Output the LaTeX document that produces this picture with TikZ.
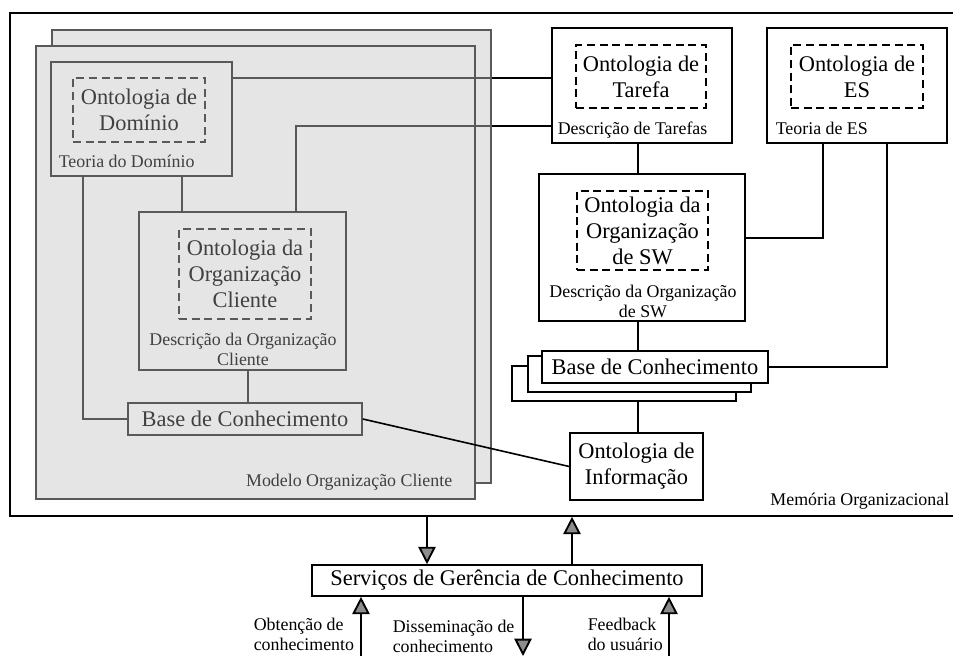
\documentclass[tikz,border=0pt]{standalone}
\usepackage{fontspec}
\setmainfont{Liberation Serif}
\usetikzlibrary{fit,arrows.meta}
\begin{document}
\begin{tikzpicture}[x=0.75pt,y=-0.75pt,line width=1.2pt,
  frame/.style={draw, inner sep=0pt, line width=1.2pt},
  onto/.style={draw, dash pattern=on 6pt off 3.5pt, line width=1.2pt, inner sep=0pt,
    align=center, font=\fontsize{16.8}{19.5}\selectfont},
  big/.style={font=\fontsize{16.8}{19.5}\selectfont, align=center},
  small/.style={font=\fontsize{13.4}{15}\selectfont, inner sep=0pt},
  client/.style={draw=black!65, text=black!75},
  cltext/.style={text=black!75},
  clline/.style={draw=black!65},
  flow/.style={-{Triangle[length=13pt,width=13pt,fill=black!45]}, line width=1.4pt},
]
\useasboundingbox (0,0) rectangle (953,656);
\clip (0,0) rectangle (953,656);

% helper columns and rows for orthogonal connectors
\coordinate (x83) at (83,0);
\coordinate (x182) at (182,0);
\coordinate (x248) at (248,0);
\coordinate (x296) at (296,0);
\coordinate (x638) at (638,0);
\coordinate (x823) at (823,0);
\coordinate (x887) at (887,0);
\coordinate (x427) at (427,0);
\coordinate (x572) at (572,0);
\coordinate (y78) at (0,78);
\coordinate (y126) at (0,126);
\coordinate (y238) at (0,238);

% organisational memory frame (open to the right)
\node[frame, fit={(10,13) (1000,516)}] (mem) {};
\node[small, anchor=base east] at (950,505) {Memória Organizacional};

% client organisation model: two stacked sheets
\node[frame, client, fill=black!10, fit={(52,30) (491,483)}] (page2) {};
\node[frame, client, fill=black!10, fit={(36,46) (475,499)}] (page1) {};
\node[small, cltext, anchor=base east] at (453,486) {Modelo Organização Cliente};

\node[frame, client, fit={(51,62) (232,176)}] (dom) {};
\node[onto, client, minimum width=99pt, minimum height=48pt] (domo) at (139,110) {Ontologia de\\Domínio};
\node[small, cltext, anchor=base west] at (58,168) {Teoria do Domínio};

\node[frame, client, fit={(139,212) (346,370)}] (corg) {};
\node[onto, client, minimum width=99pt, minimum height=67.5pt] (corgo) at (245,274) {Ontologia da\\Organização\\Cliente};
\node[small, cltext, align=center] at (243,349) {Descrição da Organização\\Cliente};

\node[frame, client, big, inner sep=0pt, minimum width=175.5pt, minimum height=24pt] (bc) at (245,419) {Base de Conhecimento};

% software side
\node[frame, fit={(552,28) (732,143)}] (tar) {};
\node[onto, minimum width=97.5pt, minimum height=47.25pt] (taro) at (641,76.5) {Ontologia de\\Tarefa};
\node[small, anchor=base west] at (557,135) {Descrição de Tarefas};

\node[frame, fit={(767,28) (947,143)}] (es) {};
\node[onto, minimum width=99pt, minimum height=47.25pt] (eso) at (857,76.5) {Ontologia de\\ES};
\node[small, anchor=base west] at (775,135) {Teoria de ES};

\node[frame, fit={(539,174) (745,321)}] (sw) {};
\node[onto, minimum width=98.25pt, minimum height=59.25pt] (swo) at (642.5,230.5) {Ontologia da\\Organização\\de SW};
\node[small, align=center] at (643,301) {Descrição da Organização\\de SW};

\node[frame, fill=white, fit={(512,366) (736,401)}] (bsw3) {};
\node[frame, fill=white, fit={(528,356) (751,392)}] (bsw2) {};
\node[frame, fill=white, big, inner sep=0pt, minimum width=169.5pt, minimum height=24pt] (bsw) at (655,367) {Base de Conhecimento};

\node[frame, big, inner sep=0pt, minimum width=99.75pt, minimum height=50.25pt] (info) at (636.5,466.5) {Ontologia de\\Informação};

% services
\node[frame, big, inner sep=0pt, minimum width=292.5pt, minimum height=23.25pt] (svc) at (507,580.5) {Serviços de Gerência de Conhecimento};

% connectors inside the client model
\draw[clline] (dom.south -| x83) |- (bc.west);
\draw[clline] (dom.south -| x182) -- (corg.north -| x182);
\draw[clline] (corg.south -| x248) -- (bc.north -| x248);
\draw[clline] (dom.east |- y78) -- (page2.east |- y78);
\draw[clline] (corg.north -| x296) |- (page2.east |- y126);

% connectors to the software side
\draw (page2.east |- y78) -- (tar.west |- y78);
\draw (page2.east |- y126) -- (tar.west |- y126);
\draw (bc.east) -- (info.west);
\draw (tar.south -| x638) -- (sw.north -| x638);
\draw (es.south -| x823) |- (sw.east |- y238);
\draw (es.south -| x887) |- (bsw.east);
\draw (sw.south -| x638) -- (bsw.north -| x638);
\draw (bsw3.south -| x638) -- (info.north -| x638);

% flows between memory, services and users
\draw[flow] (mem.south -| x427) -- (svc.north -| x427);
\draw[flow] (svc.north -| x572) -- (mem.south -| x572);
\coordinate (in1) at (361,656);
\coordinate (out1) at (523,656);
\coordinate (in2) at (669,656);
\draw[flow] (in1) -- (svc.south -| in1);
\draw[flow] (svc.south -| out1) -- (out1);
\draw[flow] (in2) -- (svc.south -| in2);

\node[small, align=left, anchor=west] at (253,634) {Obtenção de\\conhecimento};
\node[small, align=left, anchor=west] at (392,636) {Disseminação de\\conhecimento};
\node[small, align=left, anchor=west] at (587,634) {Feedback\\do usuário};
\end{tikzpicture}
\end{document}
